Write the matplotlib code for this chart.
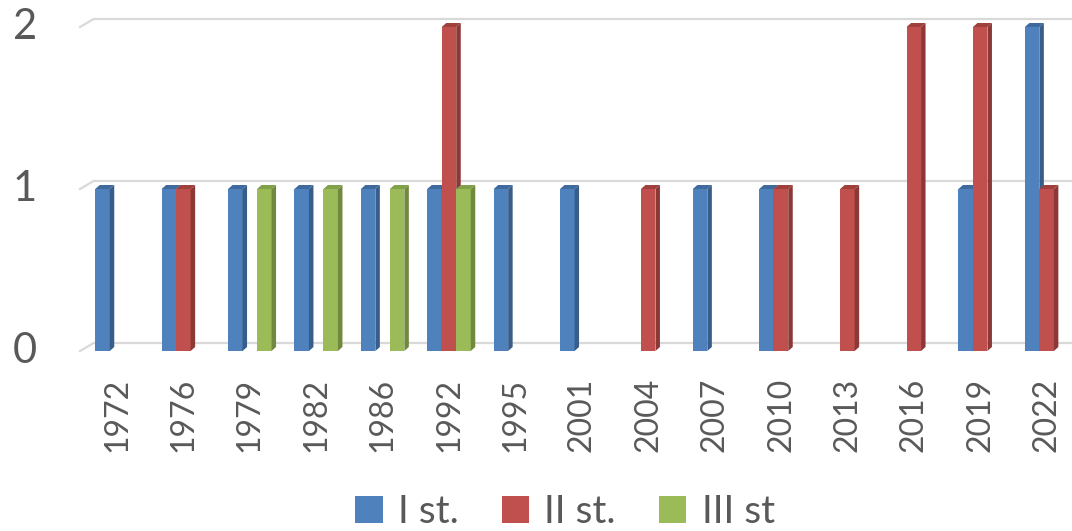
import numpy as np
import matplotlib.pyplot as plt
from matplotlib.patches import Polygon, Patch

plt.rcParams['font.family'] = ['Lato', 'DejaVu Sans']

years = ['1972', '1976', '1979', '1982', '1986', '1992', '1995', '2001',
         '2004', '2007', '2010', '2013', '2016', '2019', '2022']
first = [1, 1, 1, 1, 1, 1, 1, 1, 0, 1, 1, 0, 0, 1, 2]
second = [0, 1, 0, 0, 0, 2, 0, 0, 1, 0, 1, 1, 2, 2, 1]
third = [0, 0, 1, 1, 1, 1, 0, 0, 0, 0, 0, 0, 0, 0, 0]
series_names = ['I st.', 'II st.', 'III st']

front = ['#4F81BD', '#C0504D', '#9BBB59']
side = ['#385D8A', '#8C3836', '#71893F']
top = ['#3E6A9E', '#A0403D', '#80A04A']
text_col = '#595959'

fig = plt.figure(figsize=(10.72, 5.31), dpi=100)
# front plane: y=0 at px 351, 162 px per unit; x: category spacing 66.4 px, first centre at px 117
ax = fig.add_axes([93 / 1072, (531 - 351) / 531, (1072 - 93) / 1072, 351 / 531])
sx, sy = 66.4, 162.0
ax.set_xlim((93 - 117) / sx, (1072 - 117) / sx)
ax.set_ylim(0, 351 / sy)
ax.axis('off')

# back wall gridlines with slanted floor edge
gdy = 8 / sy
for v in [0, 1, 2]:
    ax.plot([(80 - 117) / sx, (93 - 117) / sx + 0.01, 20], [v, v + gdy, v + gdy],
            color='#D9D9D9', lw=1.6, clip_on=False, zorder=1)

w = 14.5 / sx
dx, dy = 4.5 / sx, 4 / sy
data = [first, second, third]
for i in range(len(years)):
    for s in range(3):
        h = data[s][i]
        if h == 0:
            continue
        x0 = i + (s - 1) * w - w / 2
        ax.add_patch(Polygon([[x0, 0], [x0 + w, 0], [x0 + w, h], [x0, h]],
                             closed=True, fc=front[s], ec='none', zorder=2))
        ax.add_patch(Polygon([[x0 + w, 0], [x0 + w + dx, dy], [x0 + w + dx, h + dy], [x0 + w, h]],
                             closed=True, fc=side[s], ec='none', zorder=2))
        ax.add_patch(Polygon([[x0, h], [x0 + w, h], [x0 + w + dx, h + dy], [x0 + dx, h + dy]],
                             closed=True, fc=top[s], ec='none', zorder=2))

for v in [0, 1, 2]:
    fig.text(25 / 1072, 1 - (351 - sy * v) / 531, str(v), fontsize=30, color=text_col,
             ha='center', va='center')

for i, y in enumerate(years):
    ax.text(i, -27 / sy, y, rotation=90, ha='center', va='top', fontsize=23,
            color=text_col, clip_on=False)

handles = [Patch(fc=front[k], ec='none') for k in range(3)]
leg = fig.legend(handles, series_names, loc='center', bbox_to_anchor=(565 / 1072, 1 - 512 / 531),
                 ncol=3, frameon=False, fontsize=28, handlelength=0.7, handleheight=0.7,
                 handletextpad=0.4, columnspacing=1.1)
for t in leg.get_texts():
    t.set_color(text_col)

fig.savefig('out.png', dpi=100)
